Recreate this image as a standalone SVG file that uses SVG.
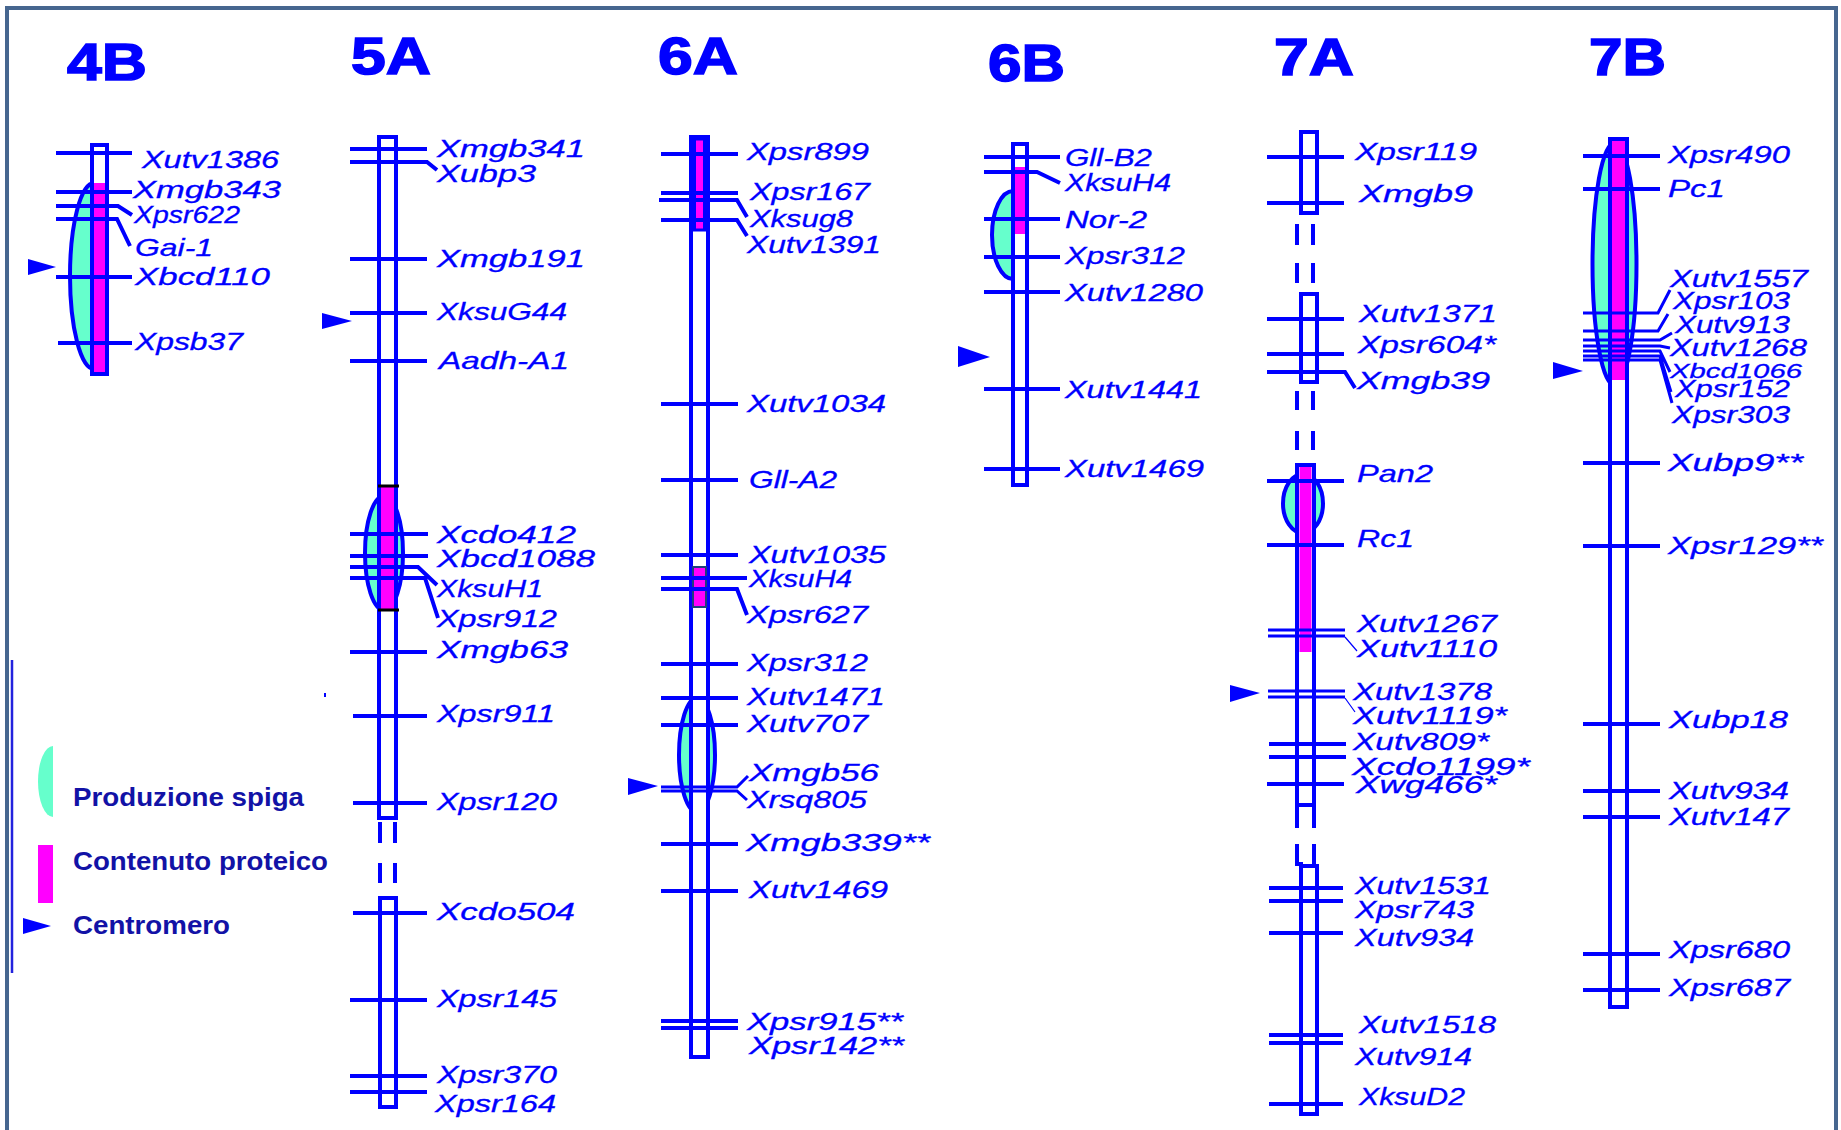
<svg xmlns="http://www.w3.org/2000/svg" width="1841" height="1130" viewBox="0 0 1841 1130">
<style>
.t{font-family:"Liberation Sans",Arial,sans-serif;font-style:italic;font-size:24px;fill:#0000FF;stroke:#0000FF;stroke-width:0.3}
.h{font-family:"Liberation Sans",Arial,sans-serif;font-weight:bold;font-size:52px;fill:#0000FF;stroke:#0000FF;stroke-width:1.5}
.lg{font-family:"Liberation Sans",Arial,sans-serif;font-weight:bold;font-size:26px;fill:#1212A6}
.tk{stroke:#0000FF;stroke-width:4;fill:none}
.tk3{stroke:#0000FF;stroke-width:3;fill:none}
.thin{stroke:#0000FF;stroke-width:1.2;fill:none}
.box{fill:#FFFFFF;stroke:#0000FF;stroke-width:4}
.mg{fill:#FF00FF}
.el{fill:#66FFCC;stroke:#0000FF;stroke-width:4}
.cen{fill:#0000FF}
</style>
<rect x="0" y="0" width="1841" height="1130" fill="#FFFFFF"/>
<rect id="frame" x="7" y="8" width="1829" height="1200" fill="none" stroke="#46668F" stroke-width="4"/>

<g id="legend">
<path d="M12,660V973" stroke="#2222DD" stroke-width="2.5"/>
<path d="M53,746 A15,35.5 0 0 0 53,817 Z" fill="#66FFCC"/>
<rect x="38" y="845" width="15" height="58" fill="#FF00FF"/>
<polygon class="cen" points="23,918 23,934 51,926"/>
<text class="lg" x="73" y="806" textLength="231" lengthAdjust="spacingAndGlyphs">Produzione spiga</text>
<text class="lg" x="73" y="870" textLength="255" lengthAdjust="spacingAndGlyphs">Contenuto proteico</text>
<text class="lg" x="73" y="934" textLength="157" lengthAdjust="spacingAndGlyphs">Centromero</text>
</g>

<g id="chr4B">
<text class="h" x="67" y="80" textLength="80" lengthAdjust="spacingAndGlyphs">4B</text>
<path class="el" d="M94,183 A24,93 0 0 0 94,369"/>
<rect class="box" x="92" y="145" width="15" height="229"/>
<rect class="mg" x="94" y="183" width="11" height="189"/>
<path class="tk" d="M56,153H132M56,192H132M56,277H132M58,343H132"/>
<polygon class="cen" points="28,259 28,275 56,267"/>
<text class="t" x="142" y="168" textLength="137" lengthAdjust="spacingAndGlyphs">Xutv1386</text>
<text class="t" x="133" y="198" textLength="148" lengthAdjust="spacingAndGlyphs">Xmgb343</text>
<text class="t" x="134" y="223" textLength="106" lengthAdjust="spacingAndGlyphs">Xpsr622</text>
<text class="t" x="135" y="256" textLength="78" lengthAdjust="spacingAndGlyphs">Gai-1</text>
<text class="t" x="135" y="285" textLength="135" lengthAdjust="spacingAndGlyphs">Xbcd110</text>
<text class="t" x="135" y="350" textLength="108" lengthAdjust="spacingAndGlyphs">Xpsb37</text>
</g>

<g id="chr5A">
<text class="h" x="351" y="74" textLength="80" lengthAdjust="spacingAndGlyphs">5A</text>
<ellipse class="el" cx="384" cy="553" rx="19" ry="57"/>
<rect class="box" x="379" y="137" width="17" height="681"/>
<path class="tk" d="M380,822V843M395,822V843M380,863V883M395,863V883"/>
<rect class="box" x="380" y="898" width="16" height="209"/>
<rect class="mg" x="381" y="486" width="13" height="124"/>
<path d="M378,486H399M378,610H399" stroke="#000000" stroke-width="3"/>
<path class="tk" d="M350,149H427M350,259H427M350,313H427M350,361H427M350,534H428M350,556H428M350,652H427M353,716H427M353,803H427M353,913H427M350,1000H427M350,1076H427M350,1092H427"/>
<polygon class="cen" points="322,313 322,329 352,321"/>
<rect x="324" y="693" width="2" height="4" fill="#0000FF"/>
<text class="t" x="437" y="157" textLength="148" lengthAdjust="spacingAndGlyphs">Xmgb341</text>
<text class="t" x="437" y="182" textLength="99" lengthAdjust="spacingAndGlyphs">Xubp3</text>
<text class="t" x="437" y="267" textLength="148" lengthAdjust="spacingAndGlyphs">Xmgb191</text>
<text class="t" x="437" y="320" textLength="130" lengthAdjust="spacingAndGlyphs">XksuG44</text>
<text class="t" x="439" y="369" textLength="130" lengthAdjust="spacingAndGlyphs">Aadh-A1</text>
<text class="t" x="437" y="543" textLength="139" lengthAdjust="spacingAndGlyphs">Xcdo412</text>
<text class="t" x="437" y="567" textLength="158" lengthAdjust="spacingAndGlyphs">Xbcd1088</text>
<text class="t" x="437" y="597" textLength="106" lengthAdjust="spacingAndGlyphs">XksuH1</text>
<text class="t" x="437" y="627" textLength="120" lengthAdjust="spacingAndGlyphs">Xpsr912</text>
<text class="t" x="437" y="658" textLength="131" lengthAdjust="spacingAndGlyphs">Xmgb63</text>
<text class="t" x="437" y="722" textLength="118" lengthAdjust="spacingAndGlyphs">Xpsr911</text>
<text class="t" x="437" y="810" textLength="120" lengthAdjust="spacingAndGlyphs">Xpsr120</text>
<text class="t" x="437" y="920" textLength="138" lengthAdjust="spacingAndGlyphs">Xcdo504</text>
<text class="t" x="437" y="1007" textLength="120" lengthAdjust="spacingAndGlyphs">Xpsr145</text>
<text class="t" x="437" y="1083" textLength="120" lengthAdjust="spacingAndGlyphs">Xpsr370</text>
<text class="t" x="435" y="1112" textLength="121" lengthAdjust="spacingAndGlyphs">Xpsr164</text>
</g>

<g id="chr6A">
<text class="h" x="658" y="74" textLength="80" lengthAdjust="spacingAndGlyphs">6A</text>
<ellipse class="el" cx="697" cy="755" rx="18" ry="57"/>
<rect class="box" x="691" y="137" width="17" height="920"/>
<rect class="mg" x="694.5" y="139" width="10" height="91" stroke="#0000FF" stroke-width="3"/>
<rect class="mg" x="693" y="567" width="13" height="40" stroke="#1F3F7F" stroke-width="2"/>
<path class="tk" d="M661,154H738M661,193H738M661,404H738M661,480H738M661,555H738M661,578H747M661,664H738M661,698H738M661,725H738M661,844H738M661,891H738M661,1021H738M661,1028H738"/>
<polygon class="cen" points="628,778 628,795 658,786"/>
<text class="t" x="747" y="160" textLength="122" lengthAdjust="spacingAndGlyphs">Xpsr899</text>
<text class="t" x="750" y="200" textLength="120" lengthAdjust="spacingAndGlyphs">Xpsr167</text>
<text class="t" x="750" y="227" textLength="103" lengthAdjust="spacingAndGlyphs">Xksug8</text>
<text class="t" x="747" y="253" textLength="134" lengthAdjust="spacingAndGlyphs">Xutv1391</text>
<text class="t" x="747" y="412" textLength="139" lengthAdjust="spacingAndGlyphs">Xutv1034</text>
<text class="t" x="749" y="488" textLength="88" lengthAdjust="spacingAndGlyphs">Gll-A2</text>
<text class="t" x="749" y="563" textLength="137" lengthAdjust="spacingAndGlyphs">Xutv1035</text>
<text class="t" x="749" y="587" textLength="103" lengthAdjust="spacingAndGlyphs">XksuH4</text>
<text class="t" x="747" y="623" textLength="121" lengthAdjust="spacingAndGlyphs">Xpsr627</text>
<text class="t" x="747" y="671" textLength="121" lengthAdjust="spacingAndGlyphs">Xpsr312</text>
<text class="t" x="747" y="705" textLength="138" lengthAdjust="spacingAndGlyphs">Xutv1471</text>
<text class="t" x="747" y="732" textLength="121" lengthAdjust="spacingAndGlyphs">Xutv707</text>
<text class="t" x="749" y="781" textLength="130" lengthAdjust="spacingAndGlyphs">Xmgb56</text>
<text class="t" x="747" y="808" textLength="120" lengthAdjust="spacingAndGlyphs">Xrsq805</text>
<text class="t" x="746" y="851" textLength="184" lengthAdjust="spacingAndGlyphs">Xmgb339**</text>
<text class="t" x="749" y="898" textLength="139" lengthAdjust="spacingAndGlyphs">Xutv1469</text>
<text class="t" x="747" y="1030" textLength="156" lengthAdjust="spacingAndGlyphs">Xpsr915**</text>
<text class="t" x="749" y="1054" textLength="155" lengthAdjust="spacingAndGlyphs">Xpsr142**</text>
</g>

<g id="chr6B">
<text class="h" x="988" y="81" textLength="77" lengthAdjust="spacingAndGlyphs">6B</text>
<path class="el" d="M1013,191 A21,44 0 0 0 1013,279"/>
<rect class="box" x="1013" y="144" width="14" height="341"/>
<rect class="mg" x="1015" y="167" width="10" height="67"/>
<path class="tk" d="M984,157H1060M984,219H1060M984,257H1060M984,292H1060M984,389H1060M984,469H1060"/>
<polygon class="cen" points="958,346 958,367 990,357"/>
<text class="t" x="1065" y="166" textLength="87" lengthAdjust="spacingAndGlyphs">Gll-B2</text>
<text class="t" x="1065" y="191" textLength="106" lengthAdjust="spacingAndGlyphs">XksuH4</text>
<text class="t" x="1065" y="228" textLength="82" lengthAdjust="spacingAndGlyphs">Nor-2</text>
<text class="t" x="1065" y="264" textLength="120" lengthAdjust="spacingAndGlyphs">Xpsr312</text>
<text class="t" x="1065" y="301" textLength="138" lengthAdjust="spacingAndGlyphs">Xutv1280</text>
<text class="t" x="1065" y="398" textLength="137" lengthAdjust="spacingAndGlyphs">Xutv1441</text>
<text class="t" x="1065" y="477" textLength="139" lengthAdjust="spacingAndGlyphs">Xutv1469</text>
</g>

<g id="chr7A">
<text class="h" x="1274" y="75" textLength="80" lengthAdjust="spacingAndGlyphs">7A</text>
<rect class="box" x="1301" y="132" width="16" height="81"/>
<path class="tk" d="M1297,224V245M1313,224V245M1297,263V283M1313,263V283"/>
<rect class="box" x="1301" y="294" width="16" height="88"/>
<path class="tk" d="M1297,391V410M1313,391V410M1297,431V450M1313,431V450"/>
<ellipse class="el" cx="1303" cy="503.5" rx="20" ry="29.5"/>
<rect class="box" x="1297" y="465" width="17" height="340"/>
<rect class="mg" x="1299.5" y="467" width="12" height="185"/>
<path class="tk" d="M1297,805V828M1314,805V828M1297,844V864H1303M1314,844V866"/>
<rect class="box" x="1301" y="866" width="16" height="248"/>
<path class="tk" d="M1267,157H1344M1267,203H1344M1267,319H1344M1267,354H1344M1267,481H1344M1267,545H1344M1269,744H1346M1269,757H1346M1267,784H1344M1269,888H1343M1269,901H1343M1269,933H1343M1269,1035H1343M1269,1043H1343M1269,1104H1343"/>
<path class="tk3" d="M1268,630H1345M1268,636H1345M1268,691H1345M1268,697H1345"/>
<polygon class="cen" points="1230,685 1230,702 1260,693"/>
<text class="t" x="1355" y="160" textLength="122" lengthAdjust="spacingAndGlyphs">Xpsr119</text>
<text class="t" x="1359" y="202" textLength="114" lengthAdjust="spacingAndGlyphs">Xmgb9</text>
<text class="t" x="1359" y="322" textLength="138" lengthAdjust="spacingAndGlyphs">Xutv1371</text>
<text class="t" x="1358" y="353" textLength="138" lengthAdjust="spacingAndGlyphs">Xpsr604*</text>
<text class="t" x="1357" y="389" textLength="133" lengthAdjust="spacingAndGlyphs">Xmgb39</text>
<text class="t" x="1357" y="482" textLength="76" lengthAdjust="spacingAndGlyphs">Pan2</text>
<text class="t" x="1357" y="547" textLength="57" lengthAdjust="spacingAndGlyphs">Rc1</text>
<text class="t" x="1357" y="632" textLength="140" lengthAdjust="spacingAndGlyphs">Xutv1267</text>
<text class="t" x="1357" y="657" textLength="140" lengthAdjust="spacingAndGlyphs">Xutv1110</text>
<text class="t" x="1353" y="700" textLength="139" lengthAdjust="spacingAndGlyphs">Xutv1378</text>
<text class="t" x="1353" y="724" textLength="154" lengthAdjust="spacingAndGlyphs">Xutv1119*</text>
<text class="t" x="1353" y="750" textLength="136" lengthAdjust="spacingAndGlyphs">Xutv809*</text>
<text class="t" x="1352" y="775" textLength="178" lengthAdjust="spacingAndGlyphs">Xcdo1199*</text>
<text class="t" x="1356" y="793" textLength="141" lengthAdjust="spacingAndGlyphs">Xwg466*</text>
<text class="t" x="1355" y="894" textLength="136" lengthAdjust="spacingAndGlyphs">Xutv1531</text>
<text class="t" x="1355" y="918" textLength="119" lengthAdjust="spacingAndGlyphs">Xpsr743</text>
<text class="t" x="1355" y="946" textLength="119" lengthAdjust="spacingAndGlyphs">Xutv934</text>
<text class="t" x="1359" y="1033" textLength="137" lengthAdjust="spacingAndGlyphs">Xutv1518</text>
<text class="t" x="1355" y="1065" textLength="117" lengthAdjust="spacingAndGlyphs">Xutv914</text>
<text class="t" x="1359" y="1105" textLength="106" lengthAdjust="spacingAndGlyphs">XksuD2</text>
</g>

<g id="chr7B">
<text class="h" x="1589" y="75" textLength="77" lengthAdjust="spacingAndGlyphs">7B</text>
<ellipse class="el" cx="1614.5" cy="264" rx="22" ry="121"/>
<rect class="box" x="1610" y="139" width="17" height="868"/>
<rect class="mg" x="1612" y="141" width="13" height="239"/>
<path class="tk" d="M1583,156H1660M1583,189H1660M1583,463H1660M1583,546H1660M1583,724H1660M1583,791H1660M1583,817H1660M1583,954H1660M1583,990H1660"/>
<polygon class="cen" points="1553,362 1553,379 1583,371"/>
<text class="t" x="1668" y="163" textLength="122" lengthAdjust="spacingAndGlyphs">Xpsr490</text>
<text class="t" x="1668" y="197" textLength="57" lengthAdjust="spacingAndGlyphs">Pc1</text>
<text class="t" x="1670" y="287" textLength="138" lengthAdjust="spacingAndGlyphs">Xutv1557</text>
<text class="t" x="1673" y="309" textLength="117" lengthAdjust="spacingAndGlyphs">Xpsr103</text>
<text class="t" x="1675" y="333" textLength="115" lengthAdjust="spacingAndGlyphs">Xutv913</text>
<text class="t" x="1670" y="356" textLength="137" lengthAdjust="spacingAndGlyphs">Xutv1268</text>
<text class="t" x="1670" y="378" textLength="132" lengthAdjust="spacingAndGlyphs" style="font-size:21px">Xbcd1066</text>
<text class="t" x="1675" y="397" textLength="115" lengthAdjust="spacingAndGlyphs">Xpsr152</text>
<text class="t" x="1672" y="423" textLength="118" lengthAdjust="spacingAndGlyphs">Xpsr303</text>
<text class="t" x="1668" y="471" textLength="135" lengthAdjust="spacingAndGlyphs">Xubp9**</text>
<text class="t" x="1668" y="554" textLength="155" lengthAdjust="spacingAndGlyphs">Xpsr129**</text>
<text class="t" x="1669" y="728" textLength="119" lengthAdjust="spacingAndGlyphs">Xubp18</text>
<text class="t" x="1669" y="799" textLength="120" lengthAdjust="spacingAndGlyphs">Xutv934</text>
<text class="t" x="1669" y="825" textLength="120" lengthAdjust="spacingAndGlyphs">Xutv147</text>
<text class="t" x="1669" y="958" textLength="121" lengthAdjust="spacingAndGlyphs">Xpsr680</text>
<text class="t" x="1669" y="996" textLength="121" lengthAdjust="spacingAndGlyphs">Xpsr687</text>
</g>

<g id="connectors">
<path class="tk" d="M56,206H118L132,215M56,219H117L130,246"/>
<path class="tk" d="M350,162H427L437,170M350,567H418L437,585M350,578H425L438,618"/>
<path class="tk" d="M659,200H737L747,217M661,220H737L747,236M661,589H737L747,615"/>
<path class="tk3" d="M661,787H737L748,776M661,791H737L747,800"/>
<path class="tk" d="M984,172H1037L1060,183"/>
<path class="tk" d="M1267,372H1345L1355,388"/>
<path class="thin" d="M1345,637L1357,651M1345,698L1355,712"/>
<path class="tk3" d="M1583,313H1658L1670,290M1583,331H1658L1668,314M1583,340H1660L1672,333M1583,346H1660L1670,348M1583,351H1660L1670,372M1583,356H1660L1671,392M1583,360H1660L1672,403"/>
</g>
</svg>
